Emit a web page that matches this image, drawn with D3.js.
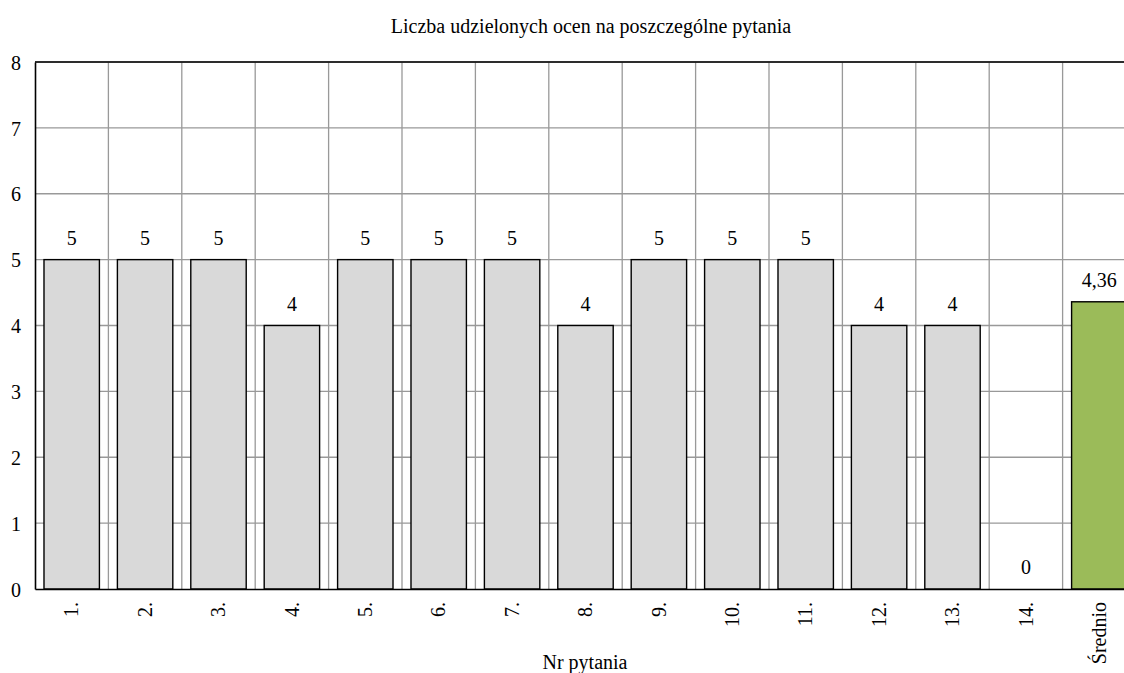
<!DOCTYPE html>
<html><head><meta charset="utf-8">
<script src="https://cdn.jsdelivr.net/npm/d3@7"></script>
<style>body{margin:0;background:#fff;overflow:hidden}svg{display:block}</style>
</head><body>
<svg id="c" width="1124" height="673"></svg>
<script>
const categories = ["1.","2.","3.","4.","5.","6.","7.","8.","9.","10.","11.","12.","13.","14.","Średnio"];
const values = [5,5,5,4,5,5,5,4,5,5,5,4,4,0,4.36];
const valueLabels = ["5","5","5","4","5","5","5","4","5","5","5","4","4","0","4,36"];
const yTicks = [0,1,2,3,4,5,6,7,8];
const title = "Liczba udzielonych ocen na poszczególne pytania";
const xTitle = "Nr pytania";

const FONT = "'Liberation Serif', 'Times New Roman', Times, serif";
const svg = d3.select("#c");
const mLeft = 35, mTop = 62, mBottom = 589, bandW = 73.4;
const mRight = mLeft + bandW * categories.length;
const x = d3.scaleBand().domain(categories).range([mLeft, mRight]).paddingInner(0.245).paddingOuter(0.1225);
const xb = d3.scaleBand().domain(categories).range([mLeft, mRight]);
const y = d3.scaleLinear().domain([0, 8]).range([mBottom, mTop]);

// grid
svg.append("g").selectAll("line").data(yTicks.slice(1)).join("line")
  .attr("x1", mLeft).attr("x2", mRight).attr("y1", d => y(d)).attr("y2", d => y(d))
  .attr("stroke", "#999").attr("stroke-width", 1.3);
svg.append("g").selectAll("line").data(categories.slice(1)).join("line")
  .attr("x1", d => xb(d)).attr("x2", d => xb(d)).attr("y1", mTop).attr("y2", mBottom)
  .attr("stroke", "#999").attr("stroke-width", 1.3);

// bars
svg.append("g").selectAll("rect").data(values).join("rect")
  .attr("x", (d, i) => x(categories[i]))
  .attr("width", x.bandwidth())
  .attr("y", d => y(d))
  .attr("height", d => mBottom - y(d))
  .attr("fill", (d, i) => i === categories.length - 1 ? "#9bbb59" : "#d9d9d9")
  .attr("stroke", "#000").attr("stroke-width", 1.4);

// frame
svg.append("line").attr("x1", mLeft).attr("x2", mRight).attr("y1", mTop).attr("y2", mTop).attr("stroke", "#000").attr("stroke-width", 1.6);

// y axis
const yAxis = d3.axisLeft(y).tickValues(yTicks).tickSize(0).tickPadding(14).tickFormat(d3.format("d"));
const yg = svg.append("g").attr("transform", `translate(${mLeft},0)`).call(yAxis);
yg.attr("font-family", null).attr("font-size", null);
yg.select(".domain").attr("stroke", "#000").attr("stroke-width", 1.6);
yg.selectAll("text").style("font-size", "20px").style("font-family", FONT).attr("fill", "#000").attr("dy", "0.36em");

// x axis
const xAxis = d3.axisBottom(xb).tickSize(0).tickPadding(0);
const xg = svg.append("g").attr("transform", `translate(0,${mBottom})`).call(xAxis);
xg.attr("font-family", null).attr("font-size", null);
xg.select(".domain").attr("stroke", "#000").attr("stroke-width", 1.6);
xg.selectAll("text").style("font-size", "20px").style("font-family", FONT).attr("fill", "#000")
  .attr("text-anchor", "end").attr("dy", "0.33em")
  .attr("transform", "translate(0,13) rotate(-90)").attr("x", 0).attr("y", 0);

// value labels
svg.append("g").selectAll("text").data(values).join("text")
  .attr("x", (d, i) => xb(categories[i]) + xb.bandwidth() / 2)
  .attr("y", d => y(d) - 15)
  .attr("text-anchor", "middle").style("font-size", "20px").style("font-family", FONT)
  .text((d, i) => valueLabels[i]);

// titles
svg.append("text").attr("x", 591).attr("y", 33).attr("text-anchor", "middle").style("font-size", "20px").style("font-family", FONT).text(title);
svg.append("text").attr("x", 585).attr("y", 669).attr("text-anchor", "middle").style("font-size", "20px").style("font-family", FONT).text(xTitle);
</script>
</body></html>
